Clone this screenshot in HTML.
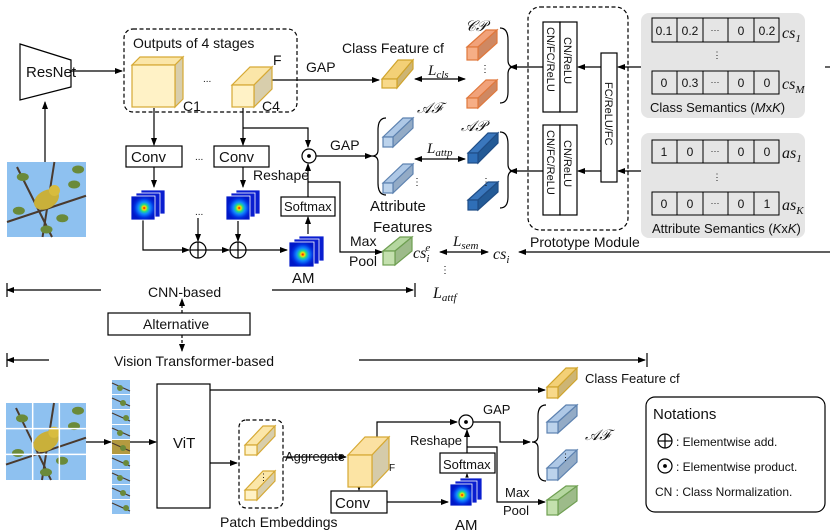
<!DOCTYPE html>
<html><head><meta charset="utf-8"><style>
html,body{margin:0;padding:0;background:#fff}
svg{display:block}
text{font-family:"Liberation Sans",sans-serif;fill:#111}
.it{font-family:"Liberation Serif",serif;font-style:italic}
</style></head><body>
<svg id="s" width="830" height="530" viewBox="0 0 830 530" xmlns="http://www.w3.org/2000/svg">
<defs>
<marker id="a" markerWidth="8" markerHeight="8" refX="7" refY="4" orient="auto" markerUnits="userSpaceOnUse"><path d="M0,1 L8,4 L0,7 Z" fill="#000"/></marker>
<marker id="as" markerWidth="8" markerHeight="8" refX="1" refY="4" orient="auto" markerUnits="userSpaceOnUse"><path d="M8,1 L0,4 L8,7 Z" fill="#000"/></marker>
<radialGradient id="hm" cx="0.55" cy="0.5" r="0.5">
<stop offset="0" stop-color="#e00"/><stop offset="0.15" stop-color="#fd0"/><stop offset="0.3" stop-color="#2d8"/><stop offset="0.5" stop-color="#18f"/><stop offset="0.8" stop-color="#0030e0"/><stop offset="1" stop-color="#0018c8"/></radialGradient>
</defs>
<g id="shapes" fill="none" stroke="#000" stroke-width="1.2">
<polygon points="20,44 71,60 71,87 20,100" fill="#fff"/>
<line x1="71" y1="71" x2="122" y2="71" marker-end="url(#a)"/>
<line x1="45" y1="162" x2="45" y2="102" marker-end="url(#a)"/>
<rect x="124" y="29" width="173" height="83" rx="9" stroke-dasharray="4,2.5"/>
<line x1="272" y1="80" x2="379" y2="80" marker-end="url(#a)"/>
<line x1="154" y1="108" x2="154" y2="145" marker-end="url(#a)"/>
<line x1="243" y1="108" x2="243" y2="145" marker-end="url(#a)"/>
<polyline points="243,128 308,128 308,147" marker-end="url(#a)"/>
<rect x="126" y="146" width="56" height="21" fill="#fff"/>
<rect x="214" y="146" width="55" height="21" fill="#fff"/>
<line x1="154" y1="167" x2="154" y2="187" marker-end="url(#a)"/>
<line x1="243" y1="167" x2="243" y2="187" marker-end="url(#a)"/>
<polyline points="143,220 143,250 189,250" marker-end="url(#a)"/>
<line x1="206" y1="250" x2="229" y2="250" marker-end="url(#a)"/>
<line x1="246" y1="250" x2="287" y2="250" marker-end="url(#a)"/>
<line x1="198" y1="218" x2="198" y2="241" marker-end="url(#a)"/>
<line x1="238" y1="221" x2="238" y2="241" marker-end="url(#a)"/>
<circle cx="198" cy="250" r="8" fill="#fff"/><line x1="190" y1="250" x2="206" y2="250"/><line x1="198" y1="242" x2="198" y2="258"/>
<circle cx="238" cy="250" r="8" fill="#fff"/><line x1="230" y1="250" x2="246" y2="250"/><line x1="238" y1="242" x2="238" y2="258"/>
<rect x="281" y="197" width="54" height="19" fill="#fff"/>
<line x1="308" y1="234" x2="308" y2="217" marker-end="url(#a)"/>
<line x1="308" y1="197" x2="308" y2="164" marker-end="url(#a)"/>
<polyline points="308,182 340,182 340,252 382,252" marker-end="url(#a)"/>
<circle cx="309" cy="156" r="7" fill="#fff"/><circle cx="309" cy="156" r="1.3" fill="#000"/>
<line x1="316" y1="156" x2="372" y2="156" marker-end="url(#a)"/>
<path d="M386,118 Q378,118 378,130 L378,150 Q378,156 372,156 Q378,156 378,162 L378,183 Q378,195 386,195"/>
<line x1="415" y1="79" x2="465" y2="79" marker-start="url(#as)" marker-end="url(#a)"/>
<line x1="415" y1="159" x2="465" y2="159" marker-start="url(#as)" marker-end="url(#a)"/>
<path d="M500,28 Q508,28 508,40 L508,60 Q508,67 514,67 Q508,67 508,74 L508,92 Q508,103 500,103"/>
<path d="M500,132 Q508,132 508,144 L508,164 Q508,171 514,171 Q508,171 508,178 L508,197 Q508,208 500,208"/>
<line x1="543" y1="67" x2="510" y2="67" marker-end="url(#a)"/>
<line x1="543" y1="171" x2="510" y2="171" marker-end="url(#a)"/>
<rect x="528" y="7" width="100" height="223" rx="12" stroke-dasharray="4,2.5"/>
<rect x="543" y="22" width="17" height="90" fill="#fff"/><rect x="560" y="22" width="17" height="90" fill="#fff"/>
<rect x="543" y="125" width="17" height="90" fill="#fff"/><rect x="560" y="125" width="17" height="90" fill="#fff"/>
<rect x="601" y="53" width="16" height="129" fill="#fff"/>
<line x1="601" y1="67" x2="578" y2="67" marker-end="url(#a)"/>
<line x1="601" y1="171" x2="578" y2="171" marker-end="url(#a)"/>
<line x1="641" y1="67" x2="618" y2="67" marker-end="url(#a)"/>
<line x1="641" y1="171" x2="618" y2="171" marker-end="url(#a)"/>
<rect x="641" y="13" width="164" height="105" rx="8" fill="#e5e5e5" stroke="none"/>
<rect x="641" y="133" width="164" height="105" rx="8" fill="#e5e5e5" stroke="none"/>
<g fill="#e5e5e5" stroke-width="1">
<rect x="652" y="18" width="127" height="24"/><rect x="652" y="71" width="127" height="23"/>
<rect x="652" y="140" width="127" height="23"/><rect x="652" y="192" width="127" height="23"/>
<path d="M677,18V42M703,18V42M728,18V42M754,18V42M677,71V94M703,71V94M728,71V94M754,71V94M677,140V163M703,140V163M728,140V163M754,140V163M677,192V215M703,192V215M728,192V215M754,192V215"/>
</g>
<line x1="830" y1="252" x2="519" y2="252" marker-end="url(#a)"/>
<line x1="440" y1="252" x2="488" y2="252" marker-start="url(#as)" marker-end="url(#a)"/>
<line x1="825" y1="67" x2="830" y2="67"/>
<line x1="7" y1="290" x2="101" y2="290" marker-start="url(#as)"/>
<line x1="7" y1="283" x2="7" y2="297"/>
<line x1="272" y1="290" x2="413" y2="290" marker-end="url(#a)"/>
<line x1="415" y1="283" x2="415" y2="297"/>
<rect x="108" y="313" width="142" height="22" fill="#fff"/>
<line x1="182" y1="313" x2="182" y2="299" stroke-dasharray="3,2" marker-end="url(#a)"/>
<line x1="182" y1="335" x2="182" y2="351" stroke-dasharray="3,2" marker-end="url(#a)"/>
<line x1="7" y1="360" x2="49" y2="360" marker-start="url(#as)"/>
<line x1="7" y1="353" x2="7" y2="367"/>
<line x1="359" y1="360" x2="645" y2="360" marker-end="url(#a)"/>
<line x1="647" y1="353" x2="647" y2="367"/>
<line x1="86" y1="442" x2="111" y2="442" marker-end="url(#a)"/>
<line x1="130" y1="442" x2="156" y2="442" marker-end="url(#a)"/>
<rect x="157" y="384" width="53" height="124" fill="#fff"/>
<line x1="210" y1="390" x2="545" y2="390" marker-end="url(#a)"/>
<line x1="210" y1="463" x2="237" y2="463" marker-end="url(#a)"/>
<rect x="239" y="420" width="44" height="88" rx="7" stroke-dasharray="4,2.5"/>
<line x1="283" y1="457" x2="346" y2="457" marker-end="url(#a)"/>
<polyline points="377,440 377,422 457,422" marker-end="url(#a)"/>
<line x1="359" y1="487" x2="359" y2="490" marker-end="url(#a)"/>
<rect x="331" y="491" width="56" height="22" fill="#fff"/>
<line x1="387" y1="502" x2="448" y2="502" marker-end="url(#a)"/>
<rect x="440" y="453" width="55" height="20" fill="#fff"/>
<line x1="467" y1="484" x2="467" y2="474" marker-end="url(#a)"/>
<line x1="467" y1="453" x2="467" y2="430" marker-end="url(#a)"/>
<circle cx="466" cy="422" r="7" fill="#fff"/><circle cx="466" cy="422" r="1.3" fill="#000"/>
<polyline points="473,422 500,422 500,442 530,442" marker-end="url(#a)"/>
<polyline points="467,447 497,447 497,502 545,502" marker-end="url(#a)"/>
<path d="M546,405 Q538,405 538,416 L538,436 Q538,442 532,442 Q538,442 538,448 L538,470 Q538,481 546,481"/>
<rect x="646" y="397" width="179" height="115" rx="9"/>
<circle cx="665" cy="441" r="7"/><line x1="658" y1="441" x2="672" y2="441"/><line x1="665" y1="434" x2="665" y2="448"/>
<circle cx="665" cy="466" r="7"/><circle cx="665" cy="466" r="1.3" fill="#000"/>
</g>
<g id="dyn"></g>
<g font-size="14">
<text x="26" y="77" font-size="15">ResNet</text>
<text x="133" y="48">Outputs of 4 stages</text>
<text x="203" y="82" font-size="10">...</text>
<text x="273" y="65">F</text>
<text x="183" y="111">C1</text>
<text x="262" y="111">C4</text>
<text x="306" y="72">GAP</text>
<text x="342" y="53">Class Feature cf</text>
<text x="131" y="162" font-size="15">Conv</text>
<text x="219" y="162" font-size="15">Conv</text>
<text x="195" y="160" font-size="10">...</text>
<text x="195" y="215" font-size="10">...</text>
<text x="284" y="211" font-size="13">Softmax</text>
<text x="253" y="180">Reshape</text>
<text x="330" y="150">GAP</text>
<text x="292" y="283" font-size="15">AM</text>
<text x="350" y="246">Max</text>
<text x="349" y="266">Pool</text>
<text x="370" y="211" font-size="15">Attribute</text>
<text x="373" y="232" font-size="15">Features</text>
<text x="413" y="258" class="it" font-size="16">cs<tspan font-size="11" dy="4">i</tspan><tspan font-size="11" dx="-4" dy="-11">e</tspan></text>
<text x="440" y="273" font-size="10">⋮</text>
<text x="453" y="246" class="it" font-size="15">L<tspan font-size="11" dy="3">sem</tspan></text>
<text x="493" y="259" class="it" font-size="16">cs<tspan font-size="11" dy="4">i</tspan></text>
<text x="428" y="75" class="it" font-size="15">L<tspan font-size="11" dy="3">cls</tspan></text>
<text x="427" y="153" class="it" font-size="15">L<tspan font-size="11" dy="3">attp</tspan></text>
<text x="465" y="31" class="it" font-size="15">𝒞𝒫</text>
<text x="417" y="113" class="it" font-size="15">𝒜ℱ</text>
<text x="461" y="131" class="it" font-size="15">𝒜𝒫</text>
<text x="480" y="72" font-size="10">⋮</text>
<text x="481" y="185" font-size="10">⋮</text>
<text x="412" y="185" font-size="10">⋮</text>
<text x="530" y="247">Prototype Module</text>
<g font-size="11">
<text transform="translate(547,27) rotate(90)">CN/FC/ReLU</text>
<text transform="translate(564,37) rotate(90)">CN/ReLU</text>
<text transform="translate(547,130) rotate(90)">CN/FC/ReLU</text>
<text transform="translate(564,140) rotate(90)">CN/ReLU</text>
<text transform="translate(605,82) rotate(90)">FC/ReLU/FC</text>
</g>
<g font-size="12" text-anchor="middle">
<text x="664" y="35">0.1</text><text x="690" y="35">0.2</text><text x="715" y="33" font-size="9">···</text><text x="741" y="35">0</text><text x="767" y="35">0.2</text>
<text x="664" y="87">0</text><text x="690" y="87">0.3</text><text x="715" y="85" font-size="9">···</text><text x="741" y="87">0</text><text x="767" y="87">0</text>
<text x="664" y="156">1</text><text x="690" y="156">0</text><text x="715" y="154" font-size="9">···</text><text x="741" y="156">0</text><text x="767" y="156">0</text>
<text x="664" y="208">0</text><text x="690" y="208">0</text><text x="715" y="206" font-size="9">···</text><text x="741" y="208">0</text><text x="767" y="208">1</text>
<text x="717" y="58" font-size="9">⋮</text><text x="717" y="180" font-size="9">⋮</text>
</g>
<text x="782" y="38" class="it" font-size="16">cs<tspan font-size="11" dy="4">1</tspan></text>
<text x="782" y="89" class="it" font-size="16">cs<tspan font-size="11" dy="4">M</tspan></text>
<text x="782" y="158" class="it" font-size="16">as<tspan font-size="11" dy="4">1</tspan></text>
<text x="782" y="210" class="it" font-size="16">as<tspan font-size="11" dy="4">K</tspan></text>
<text x="650" y="112" font-size="13">Class Semantics (<tspan font-style="italic">M</tspan>x<tspan font-style="italic">K</tspan>)</text>
<text x="652" y="233" font-size="13">Attribute Semantics (<tspan font-style="italic">K</tspan>x<tspan font-style="italic">K</tspan>)</text>
<text x="148" y="297">CNN-based</text>
<text x="143" y="329">Alternative</text>
<text x="114" y="366">Vision Transformer-based</text>
<text x="433" y="298" class="it" font-size="16">L<tspan font-size="11" dy="3">attf</tspan></text>
<text x="173" y="448" font-size="15">ViT</text>
<text x="585" y="383" font-size="13">Class Feature cf</text>
<text x="259" y="480" font-size="9">⋮</text>
<text x="285" y="461" font-size="13">Aggregate</text>
<text x="389" y="471" font-size="10">F</text>
<text x="335" y="508" font-size="15">Conv</text>
<text x="443" y="469" font-size="13">Softmax</text>
<text x="410" y="445" font-size="13">Reshape</text>
<text x="483" y="414" font-size="13">GAP</text>
<text x="585" y="440" class="it" font-size="15">𝒜ℱ</text>
<text x="561" y="460" font-size="9">⋮</text>
<text x="505" y="497" font-size="13">Max</text>
<text x="503" y="515" font-size="13">Pool</text>
<text x="220" y="527" font-size="14">Patch Embeddings</text>
<text x="455" y="530" font-size="15">AM</text>
<text x="653" y="419" font-size="15">Notations</text>
<text x="676" y="446" font-size="12">: Elementwise add.</text>
<text x="676" y="471" font-size="12">: Elementwise product.</text>
<text x="655" y="496" font-size="12">CN : Class Normalization.</text>
</g>
</svg>
<script>
var NS="http://www.w3.org/2000/svg",g=document.getElementById("dyn");
function el(t,a){var e=document.createElementNS(NS,t);for(var k in a)e.setAttribute(k,a[k]);g.appendChild(e);return e;}
function cub(x,y,w,h,dx,dy,f,t,s,st){
el("polygon",{points:[x,y,x+dx,y-dy,x+w+dx,y-dy,x+w,y].join(","),fill:t,stroke:st,"stroke-width":1.2});
el("polygon",{points:[x+w,y,x+w+dx,y-dy,x+w+dx,y+h-dy,x+w,y+h].join(","),fill:s,stroke:st,"stroke-width":1.2});
el("rect",{x:x,y:y,width:w,height:h,fill:f,stroke:st,"stroke-width":1.2});}
var Y=["#fff2c6","#fbe6a8","#d8ceac","#d6a934"],CF=["#f8d98a","#f3d076","#cdb574","#d0a42c"],
O=["#f6ae86","#f1a27a","#cf8862","#e0783c"],LB=["#bcd3ec","#aec8e6","#93abc6","#5d82b0"],
DB=["#2f6fb8","#3a77bd","#235a96","#1f4d86"],G=["#c4e0ae","#b5d7a0","#9dbb8a","#6f9f52"];
function C(x,y,w,h,dx,dy,c){cub(x,y,w,h,dx,dy,c[0],c[1],c[2],c[3]);}
C(132,65,43,42,8,8,Y);C(232,85,22,22,18,18,Y);
C(382,79,15,9,16,19,CF);
C(467,47,11,13,19,17,O);C(467,98,11,10,19,18,O);
C(383,137,10,10,20,19,LB);C(383,183,10,10,20,19,LB);
C(468,153,10,10,20,20,DB);C(468,200,10,10,20,18,DB);
C(383,251,12,14,17,14,G);
C(547,387,11,11,19,19,CF);C(547,422,11,11,19,17,LB);C(547,468,11,12,19,18,LB);C(547,500,11,15,19,14,G);
C(245,445,12,10,18,19,Y);C(245,490,12,10,18,19,Y);
C(348,455,24,32,17,18,["#fce4a4","#fbe1a2","#d5cbaa","#d6a934"]);
function hm(x,y,n,w){for(var i=n-1;i>=0;i--){el("rect",{x:x+i*5,y:y-i*3,width:w,height:w,fill:i?"#0a1ed0":"url(#hm)",stroke:"#fff","stroke-width":0.8});}}
hm(131,196,3,24);hm(226,196,3,24);hm(289,242,3,25);hm(450,484,3,22);
function bird(x,y,w,h,grid){
el("rect",{x:x,y:y,width:w,height:h,fill:"#8ec1f0"});
var p=["M"+(x+10)+","+(y+5)+"L"+(x+45)+","+(y+h),"M"+(x+w*0.6)+","+y+"L"+(x+w*0.45)+","+(y+h),"M"+(x)+","+(y+h*0.8)+"L"+(x+w)+","+(y+h*0.45)];
p.forEach(function(d){el("path",{d:d,stroke:"#4a3a2e","stroke-width":2,fill:"none"});});
[[0.2,0.2],[0.85,0.3],[0.15,0.65],[0.7,0.75],[0.5,0.9],[0.9,0.1]].forEach(function(q){el("ellipse",{cx:x+w*q[0],cy:y+h*q[1],rx:6,ry:4,fill:"#6a8a3a"});});
el("ellipse",{cx:x+w*0.5,cy:y+h*0.5,rx:w*0.17,ry:h*0.12,fill:"#c9b03a",transform:"rotate(-30 "+(x+w*0.5)+" "+(y+h*0.5)+")"});
el("circle",{cx:x+w*0.6,cy:y+h*0.38,r:w*0.07,fill:"#d8bc3e"});
if(grid){for(var i=1;i<3;i++){el("line",{x1:x+w*i/3,y1:y,x2:x+w*i/3,y2:y+h,stroke:"#fff","stroke-width":1.5});el("line",{x1:x,y1:y+h*i/3,x2:x+w,y2:y+h*i/3,stroke:"#fff","stroke-width":1.5});}}}
bird(7,162,79,75,false);bird(6,403,80,77,true);
for(var i=0;i<9;i++){var yy=380+i*15;el("rect",{x:112,y:yy,width:18,height:14,fill:i==4?"#b39a40":"#8ec1f0"});
el("path",{d:"M112,"+(yy+3)+"L130,"+(yy+11),stroke:"#4a3a2e","stroke-width":1.2});el("circle",{cx:120+(i%3)*3,cy:yy+8,r:3,fill:"#6a8a3a"});}
</script>
</body></html>
